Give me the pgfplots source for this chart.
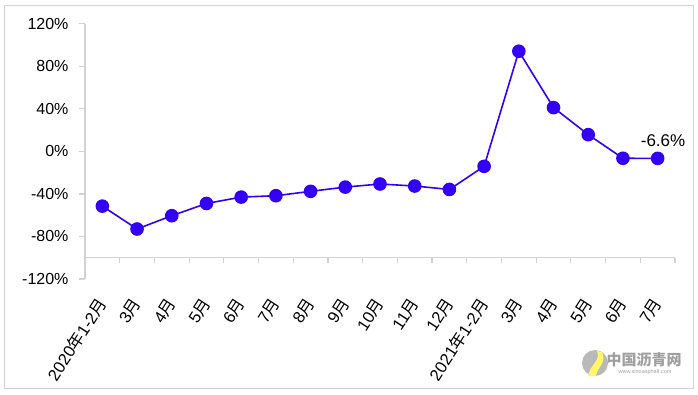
\documentclass[border=0pt]{standalone}
\usepackage{fontspec}
\setmainfont{Liberation Sans}
\newfontfamily\cjk{Noto Sans CJK SC}
\usepackage{pgfplots}
\pgfplotsset{compat=1.18}
\definecolor{linec}{RGB}{51,0,245}
\definecolor{axc}{RGB}{210,210,210}
\begin{document}
\begin{tikzpicture}
\useasboundingbox (-85bp,-116bp) rectangle (613bp,279bp);
\draw[axc, line width=1.4bp] (-80.7bp,-109.3bp) rectangle (608.3bp,273.3bp);
\begin{axis}[
  name=ax, at={(0,0)}, anchor=south west, scale only axis,
  width=590bp, height=255.3bp,
  xmin=-0.5, xmax=16.5, ymin=-120, ymax=120,
  axis lines*=left,
  x axis line style={draw=none},
  y axis line style={-, draw=axc, line width=1.2bp},
  xtick={0,...,16},
  xticklabels={2020{\cjk 年}1-2{\cjk 月},3{\cjk 月},4{\cjk 月},5{\cjk 月},6{\cjk 月},7{\cjk 月},8{\cjk 月},9{\cjk 月},10{\cjk 月},11{\cjk 月},12{\cjk 月},2021{\cjk 年}1-2{\cjk 月},3{\cjk 月},4{\cjk 月},5{\cjk 月},6{\cjk 月},7{\cjk 月}},
  x tick style={draw=none},
  xticklabel style={font=\fontsize{16.5bp}{18bp}\selectfont, inner sep=0pt, yshift=-15bp, rotate=57, anchor=east},
  ytick={-120,-80,-40,0,40,80,120},
  yticklabels={-120\%,-80\%,-40\%,0\%,40\%,80\%,120\%},
  yticklabel style={font=\fontsize{16bp}{18bp}\selectfont, text=black},
  yticklabel shift=7bp,
  y tick style={draw=axc, line width=1.2bp},
  tick align=outside, major tick length=6bp,
  clip=false,
]
\draw[axc, line width=1.2bp] (axis cs:-0.5,-100) -- (axis cs:16.5,-100);
\pgfplotsinvokeforeach{-0.5,0.5,...,16.5}{
  \draw[axc, line width=1.2bp] (axis cs:#1,-100) -- ([yshift=-5bp]axis cs:#1,-100);
}
\addplot[linec, line width=1.6bp, mark=*, mark size=6bp, mark options={fill=linec, draw=linec}]
coordinates {
(0,-51.5) (1,-73) (2,-60.5) (3,-49) (4,-43) (5,-41.7) (6,-37.6) (7,-33.6)
(8,-30.7) (9,-32.6) (10,-35.8) (11,-14.1) (12,94.1) (13,41.1) (14,15.7)
(15,-6.5) (16,-6.6)
};
\node[font=\fontsize{17bp}{19bp}\selectfont, xshift=5.4bp, yshift=17.6bp] at (axis cs:16,-6.6) {-6.6\%};
\end{axis}
\fill[gray!55] (510bp,-84bp) circle (13bp);
\fill[yellow!60!white] (503bp,-97bp) .. controls (506bp,-84bp) and (516bp,-82bp) .. (512bp,-72bp) -- (517bp,-73bp) .. controls (522bp,-84bp) and (512bp,-88bp) .. (511bp,-97bp) -- cycle;
\node[text=gray!75, font=\cjk\fontsize{15bp}{17bp}\selectfont\bfseries] at (559bp,-81bp) {中国沥青网};
\node[text=gray!75, font=\fontsize{5.5bp}{6bp}\selectfont] at (560bp,-93bp) {www.sinoasphalt.com};
\end{tikzpicture}
\end{document}
